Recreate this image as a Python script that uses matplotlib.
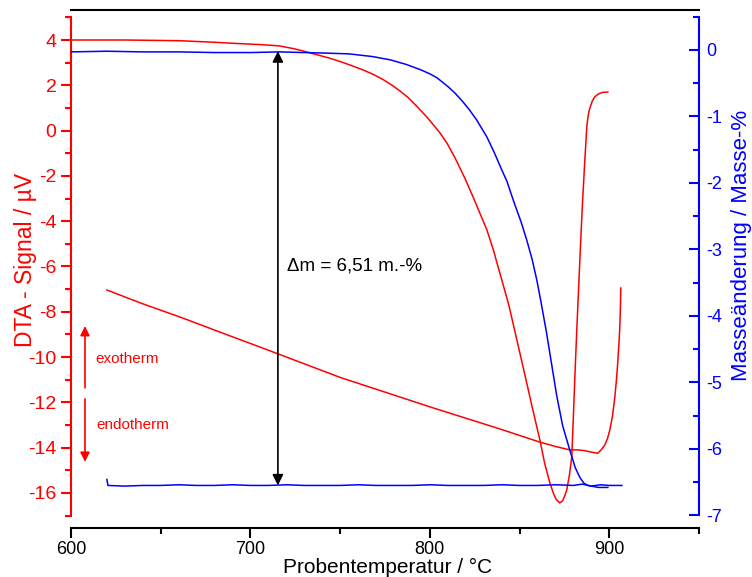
import matplotlib.pyplot as plt
from matplotlib.ticker import MultipleLocator

plt.rcParams['font.family'] = ['Liberation Sans', 'DejaVu Sans']
plt.rcParams['axes.unicode_minus'] = False

# DTA heating curve (left axis, uV)
dta_heat_t = [600, 630, 660, 680, 694, 705, 716, 724, 731.5, 738, 744, 750, 756, 762.7,
              768, 774, 779, 783.3, 788, 793, 798.3, 802, 805.6, 809.5, 814, 819.5,
              825, 831.8, 835.5, 839, 844, 848.5, 853, 857, 861.3, 864, 866.9, 869,
              870.5, 872.4, 874, 875.3, 876.3, 877.8, 879.1, 880, 881, 882, 883,
              884, 885, 886.3, 887.5, 888.3, 889, 890.5, 892, 894, 896.4, 899.2]
dta_heat_v = [4.0, 4.0, 3.97, 3.9, 3.84, 3.8, 3.74, 3.62, 3.47, 3.33, 3.2, 3.05, 2.88, 2.68,
              2.5, 2.25, 2.0, 1.75, 1.45, 1.05, 0.6, 0.25, -0.1, -0.55, -1.2, -2.1,
              -3.1, -4.39, -5.3, -6.29, -7.7, -9.25, -10.8, -12.2, -13.66, -14.7, -15.56, -16.05,
              -16.3, -16.44, -16.35, -16.1, -15.87, -15.2, -14.4, -12.6, -10.5, -8.6, -6.8,
              -5.0, -3.3, -1.4, 0.2, 0.7, 0.95, 1.3, 1.5, 1.62, 1.69, 1.70]

# DTA cooling curve (left axis, uV)
dta_cool_t = [620, 640, 662, 683, 705, 730, 750, 775, 800, 820, 840, 861, 870, 878,
              882, 886, 890, 893.6, 895.5, 897.5, 899, 900.3, 901.8, 903.1, 904,
              904.7, 905.3, 905.8, 906.2, 906.4]
dta_cool_v = [-7.04, -7.65, -8.27, -8.9, -9.55, -10.3, -10.9, -11.55, -12.2, -12.7,
              -13.2, -13.75, -13.95, -14.1, -14.1, -14.13, -14.2, -14.25, -14.1, -13.88,
              -13.6, -13.22, -12.6, -11.76, -11.0, -10.26, -9.5, -8.8, -7.8, -6.95]

# TG heating curve (right axis, mass-%)
tg_heat_t = [600, 620, 640, 660, 680, 700, 716, 730, 744, 755, 768, 778, 787, 795,
             800, 804, 810, 814, 818.4, 822, 826, 831.8, 836, 840, 843, 847, 851,
             854, 857, 859.6, 862, 865, 868, 870.7, 874, 878, 881, 883.6, 886, 888,
             894, 899.2]
tg_heat_m = [-0.03, -0.02, -0.03, -0.03, -0.04, -0.04, -0.03, -0.04, -0.05, -0.06, -0.1,
             -0.15, -0.22, -0.3, -0.36, -0.42, -0.55, -0.65, -0.78, -0.9, -1.05, -1.31,
             -1.55, -1.8, -1.98, -2.3, -2.6, -2.86, -3.15, -3.46, -3.8, -4.25, -4.75,
             -5.2, -5.65, -6.02, -6.28, -6.43, -6.52, -6.55, -6.58, -6.58]

# TG cooling curve (right axis, mass-%)
tg_cool_t = [620, 620.6, 630, 640, 650, 660, 670, 680, 690, 700, 710, 720, 730, 740,
             750, 760, 770, 780, 790, 800, 810, 820, 830, 840, 850, 860, 870, 880,
             885, 890, 895, 900, 907]
tg_cool_m = [-6.46, -6.55, -6.56, -6.55, -6.55, -6.54, -6.55, -6.55, -6.54, -6.55,
             -6.55, -6.54, -6.55, -6.55, -6.55, -6.54, -6.55, -6.55, -6.55, -6.54,
             -6.55, -6.55, -6.55, -6.54, -6.55, -6.55, -6.54, -6.55, -6.53, -6.56,
             -6.54, -6.55, -6.55]

red = '#ff0000'
blue = '#0000ff'

fig = plt.figure(figsize=(7.52, 5.77), dpi=100)
ax = fig.add_axes([71 / 752, 49 / 577, 628 / 752, 518 / 577])
ax2 = ax.twinx()

ax.plot(dta_heat_t, dta_heat_v, color=red, lw=1.1)
ax.plot(dta_cool_t, dta_cool_v, color=red, lw=1.1)
ax2.plot(tg_heat_t, tg_heat_m, color=blue, lw=1.1)
ax2.plot(tg_cool_t, tg_cool_m, color=blue, lw=1.1)

ax.set_xlim(600, 950)
ax.set_ylim(-17.55, 5.325)
ax2.set_ylim(-7.19, 0.60)

# spines
for s in ['top', 'bottom']:
    ax.spines[s].set_color('black')
    ax.spines[s].set_linewidth(1.5)
ax.spines['left'].set_color(red)
ax.spines['left'].set_linewidth(1.5)
ax.spines['left'].set_bounds(-17, 5)
ax.spines['right'].set_visible(False)
for s in ['top', 'bottom', 'left']:
    ax2.spines[s].set_visible(False)
ax2.spines['right'].set_color(blue)
ax2.spines['right'].set_linewidth(1.5)
ax2.spines['right'].set_bounds(-7, 0.5)

ax.xaxis.set_major_locator(MultipleLocator(100))
ax.xaxis.set_minor_locator(MultipleLocator(50))
ax.yaxis.set_minor_locator(MultipleLocator(1))
ax2.yaxis.set_minor_locator(MultipleLocator(0.5))

ax.tick_params(axis='x', which='major', direction='out', length=7, width=1.5, labelsize=13, colors='black', pad=2)
ax.tick_params(axis='x', which='minor', direction='out', length=4, width=1.5)
ax.tick_params(axis='y', which='major', direction='out', length=7, width=1.5, labelsize=14, colors=red)
ax.tick_params(axis='y', which='minor', direction='out', length=4, width=1.5, colors=red)
ax2.tick_params(axis='y', which='major', direction='in', length=7, width=1.5, labelsize=13, colors=blue, pad=5)
ax2.tick_params(axis='y', which='minor', direction='in', length=4, width=1.5, colors=blue)
ax.set_yticks(list(range(-16, 5, 2)))
ax2.set_yticks(list(range(-7, 1)))

# axis titles placed in figure pixels
fig.text(388 / 752, 1 - 573 / 577, 'Probentemperatur / °C', fontsize=15,
         ha='center', va='baseline')
fig.text(26 / 752, 1 - 260 / 577, 'DTA - Signal / µV', fontsize=16.5, color=red,
         rotation=90, ha='center', va='center')
fig.text(741 / 752, 1 - 245 / 577, 'Masseänderung / Masse-%', fontsize=16, color=blue,
         rotation=90, ha='center', va='center')

# mass loss arrow
ax2.annotate('', xy=(715.3, -0.02), xytext=(715.3, -6.55),
             arrowprops=dict(arrowstyle='<|-|>', color='black', lw=1.2,
                             mutation_scale=16, shrinkA=0, shrinkB=0))
ax2.text(720.3, -3.25, 'Δm = 6,51 m.-%', fontsize=13.5, va='center', ha='left')

# exo / endo arrows
ax.annotate('', xy=(607.8, -8.63), xytext=(607.8, -11.36),
            arrowprops=dict(arrowstyle='-|>', color=red, lw=1.2,
                            mutation_scale=14, shrinkA=0, shrinkB=0))
ax.annotate('', xy=(607.8, -14.63), xytext=(607.8, -11.85),
            arrowprops=dict(arrowstyle='-|>', color=red, lw=1.2,
                            mutation_scale=14, shrinkA=0, shrinkB=0))
ax.text(613.4, -10.1, 'exotherm', fontsize=11, color=red, va='center', ha='left')
ax.text(613.9, -13.0, 'endotherm', fontsize=11, color=red, va='center', ha='left')

fig.savefig('out.png', dpi=100)
